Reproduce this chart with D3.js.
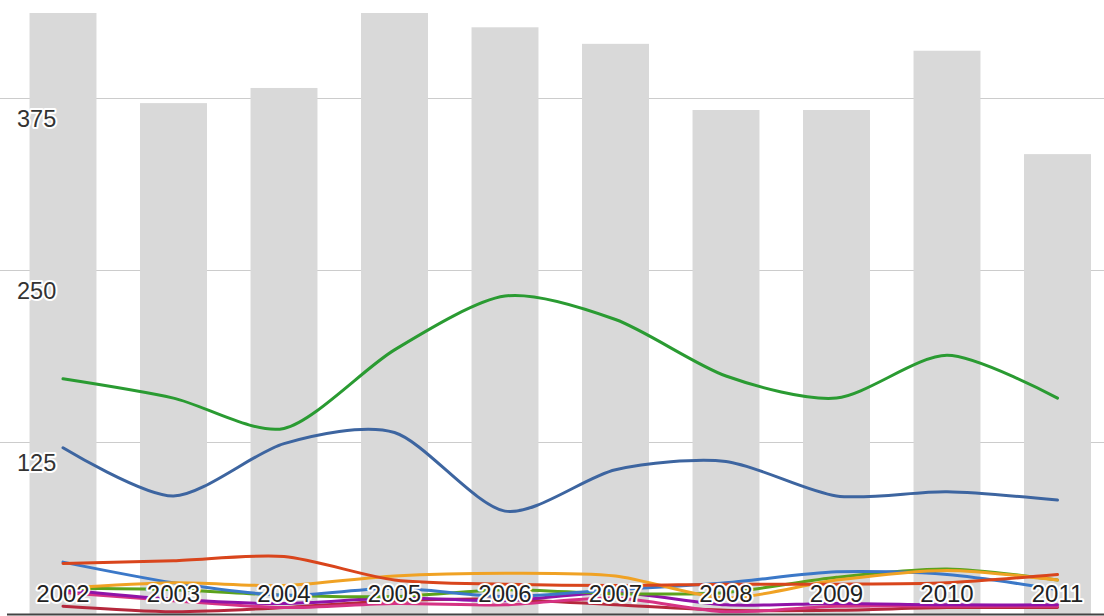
<!DOCTYPE html>
<html>
<head>
<meta charset="utf-8">
<script src="https://cdn.jsdelivr.net/npm/d3@7"></script>
<style>
  html, body { margin: 0; padding: 0; background: #fff; }
  svg { display: block; }
  text { font-family: "Liberation Sans", Arial, sans-serif; }
</style>
</head>
<body>
<svg id="chart" width="1104" height="616"></svg>
<script>
// Categories and values
const years = ["2002", "2003", "2004", "2005", "2006", "2007", "2008", "2009", "2010", "2011"];
const totals = [455, 371, 382, 450, 426, 414, 366, 366, 409, 334];
const yTicks = [125, 250, 375];

// Line series (big)
const seriesGreen = [171, 157, 135, 192, 231, 214, 173, 157, 188, 157];
const seriesBlue  = [121, 86, 124, 132, 75, 105, 111, 86, 89, 83];

// Line series (small)
const seriesRed     = [37, 39, 42, 25, 22, 21, 22, 22, 23, 29];
const seriesOrange  = [19, 23, 21, 28, 30, 28, 12, 25, 32, 25];
const seriesLime    = [19, 18, 14, 13, 18, 15, 16, 27, 33, 25];
const seriesSky     = [38, 23, 14, 19, 13, 18, 23, 31, 29, 18];
const seriesPurple  = [18, 11, 8, 12, 10, 16, 7, 8, 7, 7];
const seriesMagenta = [16, 10, 5, 8, 7, 12, 2, 6, 6, 6];
const seriesCrimson = [6, 2, 5, 10, 11, 7, 3, 3, 5, 5];

const lineSeries = [
  { values: seriesCrimson, color: "#b5283c", width: 3 },
  { values: seriesMagenta, color: "#d63384", width: 3 },
  { values: seriesPurple,  color: "#9013a8", width: 3 },
  { values: seriesLime,    color: "#5ba21c", width: 3 },
  { values: seriesSky,     color: "#3b78c8", width: 3 },
  { values: seriesOrange,  color: "#f0a224", width: 3 },
  { values: seriesRed,     color: "#d9451c", width: 3 },
  { values: seriesBlue,    color: "#3d65a0", width: 3 },
  { values: seriesGreen,   color: "#2a9b32", width: 3 }
];

const W = 1104, H = 616;
const svg = d3.select("#chart");

const x = d3.scaleBand()
  .domain(years)
  .range([7.75, 1112.75])
  .paddingInner(0.394)
  .paddingOuter(0.197);

const y = d3.scaleLinear()
  .domain([0, 500])
  .range([614.5, 614.5 - 4 * 172.3]);

// Plot clip: bars and lines are cut at the top of the plot area
svg.append("defs").append("clipPath").attr("id", "plotClip")
  .append("rect").attr("x", 0).attr("y", 13).attr("width", W).attr("height", 614.5 - 13);

// Horizontal gridlines
svg.append("g").selectAll("line")
  .data(yTicks)
  .join("line")
  .attr("x1", 0).attr("x2", W)
  .attr("y1", d => Math.round(y(d)) + 0.5)
  .attr("y2", d => Math.round(y(d)) + 0.5)
  .attr("stroke", "#cccccc")
  .attr("stroke-width", 1);

const plot = svg.append("g").attr("clip-path", "url(#plotClip)");

// Bars
plot.append("g").selectAll("rect")
  .data(years)
  .join("rect")
  .attr("x", d => x(d))
  .attr("width", x.bandwidth())
  .attr("y", (d, i) => y(totals[i]))
  .attr("height", (d, i) => y(0) - y(totals[i]))
  .attr("fill", "#d9d9d9");

// Curved lines
const line = d3.line()
  .x((d, i) => x(years[i]) + x.bandwidth() / 2)
  .y(d => y(d))
  .curve(d3.curveCardinal.tension(0.2));

plot.append("g").selectAll("path")
  .data(lineSeries)
  .join("path")
  .attr("d", d => line(d.values))
  .attr("fill", "none")
  .attr("stroke", d => d.color)
  .attr("stroke-width", d => d.width)
  .attr("stroke-linejoin", "round")
  .attr("stroke-linecap", "round");

// Baseline
svg.append("line")
  .attr("x1", 7).attr("x2", W)
  .attr("y1", 614.5).attr("y2", 614.5)
  .attr("stroke", "#444")
  .attr("stroke-width", 2);

// Value axis labels
svg.append("g").selectAll("text")
  .data(yTicks)
  .join("text")
  .attr("x", 17)
  .attr("y", d => Math.round(y(d)) + 29)
  .attr("font-size", 23.5)
  .attr("fill", "#333")
  .attr("stroke", "#fff")
  .attr("stroke-width", 4)
  .attr("paint-order", "stroke")
  .attr("stroke-linejoin", "round")
  .text(d => d);

// Year labels inside the plot, along the bottom
svg.append("g").selectAll("text")
  .data(years)
  .join("text")
  .attr("x", d => x(d) + x.bandwidth() / 2)
  .attr("y", 602)
  .attr("text-anchor", "middle")
  .attr("font-size", 24)
  .attr("fill", "#222")
  .attr("stroke", "#fff")
  .attr("stroke-width", 4)
  .attr("paint-order", "stroke")
  .attr("stroke-linejoin", "round")
  .text(d => d);
</script>
</body>
</html>
